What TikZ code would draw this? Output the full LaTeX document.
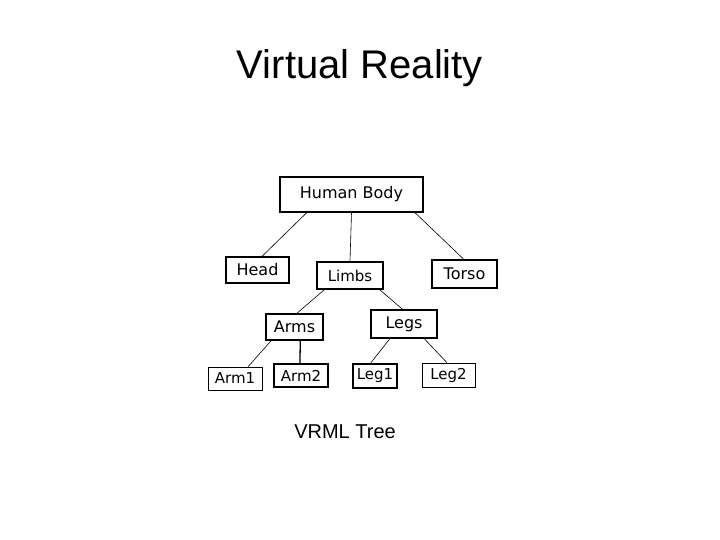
\documentclass[tikz,border=0pt]{standalone}
\usepackage{fontspec}
\setmainfont{Liberation Sans}
\newfontfamily\boxfont{DejaVu Sans}
\usetikzlibrary{calc}
\begin{document}
\begin{tikzpicture}[x=1pt,y=-1pt,
  bx/.style={draw,line width=1.3pt,inner sep=0pt,font=\boxfont\fontsize{13}{15}\selectfont},
  ln/.style={line width=0.6pt}]
\useasboundingbox (0,0) rectangle (720,540);
\node[font=\fontsize{40}{46}\selectfont] (title) at (360,68) {Virtual Reality};
\node[bx,minimum width=143pt,minimum height=35pt,font=\boxfont\fontsize{16}{18}\selectfont] (hb) at (351.5,194.5) {Human Body};
\node[bx,minimum width=63pt,minimum height=26pt,font=\boxfont\fontsize{16}{18}\selectfont] (head) at (257.5,270) {Head};
\node[bx,minimum width=66pt,minimum height=27pt,font=\boxfont\fontsize{15}{18}\selectfont] (limbs) at (350,275.5) {Limbs};
\node[bx,minimum width=65pt,minimum height=28pt,font=\boxfont\fontsize{16}{18}\selectfont] (torso) at (464.5,274) {Torso};
\node[bx,minimum width=57pt,minimum height=26pt,font=\boxfont\fontsize{16}{18}\selectfont] (arms) at (294.5,327) {Arms};
\node[bx,minimum width=66pt,minimum height=28pt,font=\boxfont\fontsize{16}{18}\selectfont] (legs) at (404,324) {Legs};
\node[bx,line width=0.8pt,minimum width=54pt,minimum height=23pt,font=\boxfont\fontsize{15}{18}\selectfont] (arm1) at (235,378.5) {Arm1};
\node[bx,minimum width=54pt,minimum height=23pt,font=\boxfont\fontsize{15}{18}\selectfont] (arm2) at (301,375.5) {Arm2};
\node[bx,minimum width=44pt,minimum height=24pt,font=\boxfont\fontsize{15}{18}\selectfont] (leg1) at (375,376) {Leg1};
\node[bx,line width=0.8pt,minimum width=53pt,minimum height=24pt,font=\boxfont\fontsize{15}{18}\selectfont] (leg2) at (448.5,375) {Leg2};
\node[font=\fontsize{20}{24}\selectfont] (cap) at (345,432) {VRML Tree};
\draw[ln] ($(hb.south west)!0.19!(hb.south east)$) -- ($(head.north west)!0.57!(head.north east)$);
\draw[ln] (hb.south) -- (limbs.north);
\draw[ln] ($(hb.south west)!0.94!(hb.south east)$) -- ($(torso.north west)!0.49!(torso.north east)$);
\draw[ln] ($(limbs.south west)!0.12!(limbs.south east)$) -- ($(arms.north west)!0.54!(arms.north east)$);
\draw[ln] ($(limbs.south west)!0.94!(limbs.south east)$) -- ($(legs.north west)!0.48!(legs.north east)$);
\draw[ln] ($(arms.south west)!0.1!(arms.south east)$) -- ($(arm1.north west)!0.74!(arm1.north east)$);
\draw[line width=1.3pt] ($(arms.south west)!0.6!(arms.south east)$) -- ($(arm2.north west)!0.48!(arm2.north east)$);
\draw[ln] ($(legs.south west)!0.29!(legs.south east)$) -- ($(leg1.north west)!0.4!(leg1.north east)$);
\draw[ln] ($(legs.south west)!0.8!(legs.south east)$) -- ($(leg2.north west)!0.47!(leg2.north east)$);
\end{tikzpicture}
\end{document}
